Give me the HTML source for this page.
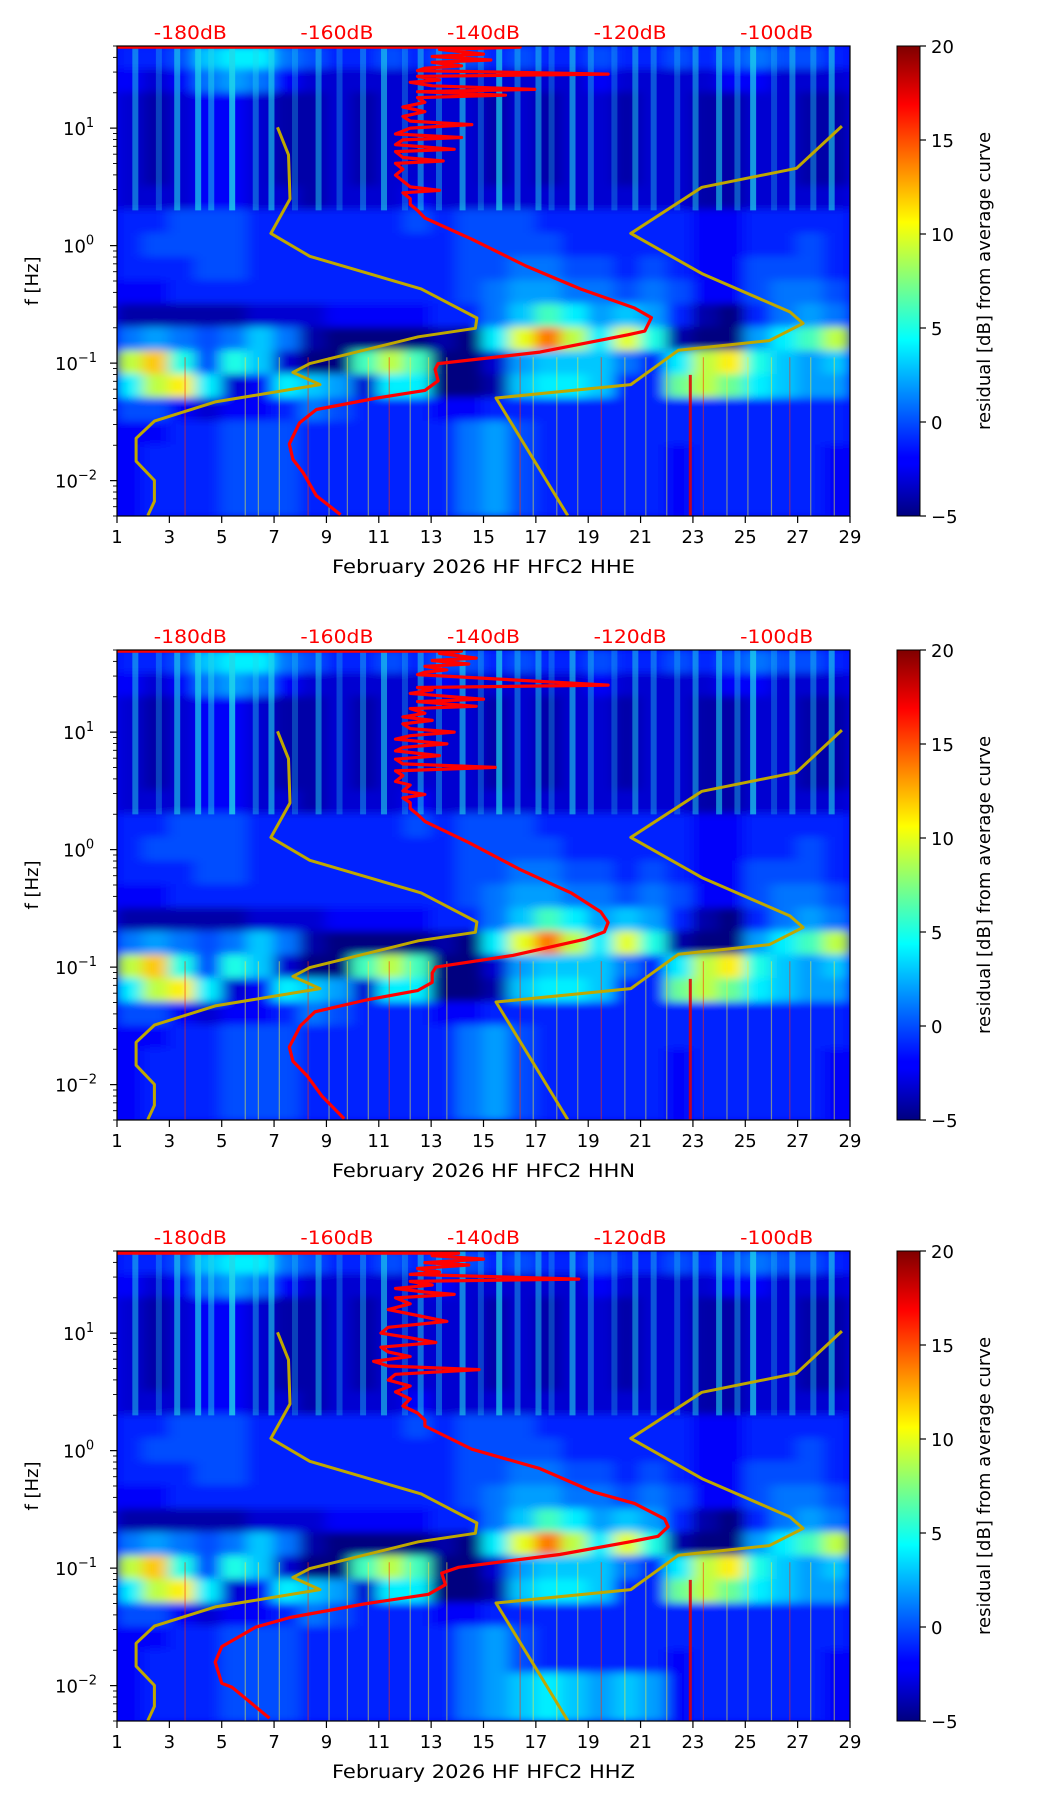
<!DOCTYPE html>
<html><head><meta charset="utf-8"><style>
html,body{margin:0;padding:0;background:#fff;}
svg{display:block;font-family:"DejaVu Sans","Liberation Sans",sans-serif;}
</style></head><body>
<svg id="fig" width="1052" height="1806" viewBox="0 0 1052 1806" xmlns="http://www.w3.org/2000/svg">
<defs>
<filter id="soft" x="-5%" y="-5%" width="110%" height="110%"><feGaussianBlur stdDeviation="7 4"/></filter>
<linearGradient id="jetgrad" x1="0" y1="1" x2="0" y2="0">
<stop offset="0" stop-color="#00007f"/><stop offset="0.11" stop-color="#0000ff"/><stop offset="0.125" stop-color="#0000ff"/>
<stop offset="0.375" stop-color="#00ffff"/><stop offset="0.5" stop-color="#80ff80"/><stop offset="0.625" stop-color="#ffff00"/>
<stop offset="0.875" stop-color="#ff0000"/><stop offset="1" stop-color="#7f0000"/>
</linearGradient>
</defs>
</svg>
<script>
// ---- data ----
const dayTicks = [1,3,5,7,9,11,13,15,17,19,21,23,25,27,29];
const dbTicks = [-180,-160,-140,-120,-100];
const cbTicks = [20,15,10,5,0,-5];
const decadeExps = [1,0,-1,-2];
const panelTitles = ["February 2026 HF HFC2  HHE","February 2026 HF HFC2  HHN","February 2026 HF HFC2  HHZ"];
// residual grid rows (log10 f centers 1.6 .. -2.2), 28 day columns
const gridRows = [
[-1,-1,0,3,4,4,1,0,-1,-1,0,-1,0,0,-1,0,-1,-1,0,-1,-1,0,-1,0,1,0,0,-1],
[-2,-3,-2,1,2,1,-2,-3,-3,-3,-3,-3,-2,-3,-3,-3,-3,-3,-2,-3,-3,-3,-3,-2,-2,-3,-3,-3],
[-3,-4,-3,-2,-2,-3,-4,-4,-3,-4,-3,-3,-3,-3,-4,-3,-4,-3,-3,-4,-3,-3,-4,-4,-3,-3,-4,-4],
[-3,-4,-3,-2,-2,-3,-4,-4,-3,-4,-3,-3,-3,-3,-4,-3,-4,-3,-3,-4,-3,-3,-4,-4,-3,-3,-4,-4],
[-3,-4,-3,-2,-2,-3,-4,-4,-3,-4,-3,-3,-3,-3,-4,-3,-4,-3,-3,-4,-3,-3,-4,-4,-3,-3,-4,-4],
[-3,-4,-3,-2,-2,-3,-4,-4,-3,-4,-3,-3,-3,-3,-4,-3,-4,-3,-3,-4,-3,-3,-4,-4,-3,-3,-4,-4],
[-3,-3,-3,-2,-2,-3,-3,-4,-3,-3,-3,-2,-3,-3,-3,-3,-3,-3,-3,-3,-3,-3,-4,-4,-3,-3,-3,-3],
[-1,-1,0,0,0,-1,-1,-1,-1,-1,-1,0,-1,0,0,0,-1,-1,-1,-1,-1,-1,-2,-2,-1,-1,-1,-1],
[-1,0,0,0,0,-1,-1,-1,-1,-1,-1,-1,-1,0,0,0,0,-1,-1,-1,-1,-1,-2,-2,-1,-1,0,-1],
[-1,-1,-1,0,0,-1,-1,-1,-1,-1,-1,-1,-1,0,0,1,1,0,0,-1,0,-1,-2,-2,0,0,0,-1],
[-2,-2,-1,-1,-1,-1,-1,-1,-1,-1,-1,-1,-1,0,1,2,2,1,1,0,1,0,-2,-2,0,1,1,0],
[-4,-4,-4,-4,-4,-3,-3,-3,-2,-2,-2,-2,-1,-1,1,3,6,4,2,3,2,-1,-4,-5,-1,1,2,1],
[1,2,1,0,1,3,1,-4,-5,-5,-5,-5,-4,-5,4,10,14,9,4,10,5,-4,-5,-5,2,4,6,9],
[9,12,5,0,5,3,-3,-5,-5,6,9,6,-5,-5,-3,2,3,3,3,1,-1,4,9,11,5,3,2,3],
[4,9,11,4,-3,-2,4,3,2,-3,4,4,-5,-5,-4,3,4,4,3,-1,-1,7,9,7,4,3,2,2],
[0,0,-2,-3,-2,-2,-1,1,0,-1,-1,-1,-2,-2,-1,-1,-1,-1,-1,-1,-1,-1,-1,-1,-1,-1,-1,-1],
[-2,-2,-1,-1,0,0,0,-1,-1,-1,-1,-1,-1,1,2,0,-1,-1,-1,-1,-1,-1,-1,-1,-1,-1,-1,-1],
[-2,-1,-1,-1,0,0,0,-1,-1,-1,-1,-1,-1,1,2,0,-1,-1,-1,-1,-1,-2,-1,-1,-1,-1,-1,-2],
[-2,-1,-1,-1,0,0,0,-1,-1,-1,-1,-1,-1,1,2,0,-1,-1,-1,-1,-1,-2,-1,-1,-1,-1,-1,-2],
[-2,-1,-1,-1,0,0,0,-1,-1,-1,-1,-1,-1,1,2,0,-1,-1,-1,-1,-1,-2,-1,-1,-1,-1,-1,-2]
];
const hhzBottomRow = [-2,-1,-1,-1,0,0,0,-1,-1,-1,-1,-1,-1,1,2,3,4,3,2,3,2,-2,-1,-1,-1,-1,-1,-2];
const upperStreakDays = [1.7,2.6,3.3,4.1,4.6,5.4,6.3,6.9,7.8,8.7,9.5,10.4,11.2,12.0,12.6,13.3,14.2,14.9,15.6,16.3,17.1,17.6,18.4,19.1,20.0,20.8,21.5,22.4,23.1,24.0,24.7,25.3,26.1,26.8,27.6,28.3];
const upperStreakStrength = [0.5,0.3,0.6,0.7,0.5,0.8,0.4,0.6,0.3,0.5,0.3,0.4,0.6,0.3,0.5,0.4,0.6,0.3,0.7,0.4,0.5,0.3,0.6,0.4,0.3,0.5,0.4,0.3,0.5,0.6,0.4,0.7,0.3,0.5,0.4,0.6];
const lowStreakDays = [3.6,5.9,6.4,7.2,8.3,9.1,9.8,10.6,11.4,12.2,12.9,13.6,16.4,16.9,17.8,18.6,19.5,20.4,21.2,22.0,23.4,24.3,25.1,26.0,26.7,27.5,28.4];
const redLineDay = 22.9;
// curves: dB and log10(f)
const red1DB = [-190,-135,-146,-140,-147,-139,-147,-143,-148,-149,-123,-149,-146,-150,-147,-133,-149,-137,-149,-148,-151,-148,-151,-150,-141.6,-150,-152,-143,-151,-152,-144,-152,-151,-145.5,-152,-151,-152,-151,-150,-146,-151,-150,-150,-149,-148,-141.6,-134.2,-126.8,-119.4,-117.1,-118,-120.3,-132.3,-146.2,-146.6,-146.2,-148,-154.5,-162.8,-165.1,-166.5,-166,-164.6,-162.8,-159.5];
const red1LogF = [1.69,1.69,1.67,1.63,1.61,1.58,1.56,1.53,1.51,1.49,1.46,1.44,1.41,1.39,1.36,1.33,1.31,1.28,1.26,1.22,1.18,1.14,1.1,1.06,1.03,1.0,0.95,0.92,0.9,0.86,0.82,0.8,0.75,0.72,0.7,0.65,0.6,0.55,0.5,0.47,0.45,0.4,0.35,0.3,0.235,0.055,-0.173,-0.368,-0.531,-0.613,-0.727,-0.759,-0.906,-1.004,-1.053,-1.15,-1.232,-1.297,-1.395,-1.509,-1.688,-1.819,-1.933,-2.129,-2.29];
const red2DB = [-190,-143,-146,-141,-147,-142,-148,-145,-148,-149,-123,-149,-147,-150,-146,-140,-149,-141,-150,-148,-151,-147,-151,-150,-144,-150,-152,-145,-151,-152,-146,-152,-151,-138.4,-152,-151,-152,-150,-151,-148,-151,-150,-150,-149,-148,-142,-135,-128,-124,-123,-123.5,-126,-136,-146.5,-147,-147,-149,-156,-163,-165,-166.5,-166,-164,-162,-159];
const red2LogF = [1.69,1.69,1.67,1.63,1.61,1.58,1.56,1.53,1.51,1.49,1.4,1.38,1.36,1.33,1.31,1.28,1.26,1.22,1.2,1.16,1.13,1.1,1.07,1.03,1.0,0.97,0.94,0.9,0.87,0.84,0.8,0.77,0.73,0.7,0.67,0.63,0.58,0.55,0.5,0.47,0.44,0.4,0.35,0.3,0.24,0.06,-0.17,-0.37,-0.53,-0.62,-0.7,-0.76,-0.9,-1.0,-1.05,-1.13,-1.2,-1.28,-1.38,-1.5,-1.68,-1.8,-1.93,-2.1,-2.29];
const red3DB = [-190,-143.4,-147,-140,-148,-142,-149,-146,-150,-127,-150,-147,-152,-148,-144,-152,-150,-153,-149,-145,-153,-154,-150,-146.5,-154,-153,-150,-155,-153,-140.6,-152,-153,-150,-152,-150,-151,-149,-148,-148,-141.6,-132.3,-125,-119.4,-115.3,-114.8,-116.2,-120.3,-129.6,-143.4,-145.7,-145.2,-147.5,-156.3,-166.4,-171.1,-175.7,-176.6,-175.7,-174.3,-169.2];
const red3LogF = [1.68,1.68,1.66,1.63,1.6,1.58,1.55,1.52,1.5,1.46,1.44,1.41,1.38,1.35,1.33,1.3,1.25,1.2,1.15,1.1,1.05,1.0,0.96,0.92,0.88,0.84,0.8,0.76,0.72,0.69,0.65,0.6,0.55,0.5,0.44,0.38,0.32,0.26,0.21,0.012,-0.153,-0.351,-0.449,-0.581,-0.647,-0.729,-0.779,-0.884,-0.993,-1.042,-1.141,-1.223,-1.305,-1.42,-1.503,-1.668,-1.8,-1.98,-2.014,-2.277];
const lowNoiseDB = [-168.1,-166.6,-166.4,-169.0,-163.7,-148.5,-140.9,-141.1,-148.9,-163.7,-166.0,-162.3,-176.6,-184.9,-187.4,-187.4,-184.9,-184.9,-185.8];
const lowNoiseLogF = [1.007,0.773,0.397,0.104,-0.091,-0.368,-0.616,-0.704,-0.776,-1.004,-1.079,-1.183,-1.33,-1.493,-1.64,-1.835,-1.998,-2.177,-2.298];
const highNoiseDB = [-91.1,-97.3,-110.2,-119.9,-110.2,-98.2,-96.4,-101.0,-113.4,-119.9,-138.3,-128.5];
const highNoiseLogF = [1.017,0.658,0.496,0.104,-0.238,-0.564,-0.662,-0.808,-0.89,-1.183,-1.297,-2.298];

// ---- layout ----
const NS = "http://www.w3.org/2000/svg";
const svg = document.getElementById('fig');
const L = 117, R = 850, H = 470, LOGMAX = Math.log10(50), LOGMIN = Math.log10(0.005);
const panelTops = [46, 650, 1251];
const CBX = 897, CBW = 23;
function mk(tag, attrs, parent){ const e=document.createElementNS(NS,tag); for(const k in attrs) e.setAttribute(k,attrs[k]); (parent||svg).appendChild(e); return e; }
function xDay(d){ return L + (d-1)/28*(R-L); }
function xDB(db){ return L + (db+190)/100*(R-L); }
function yLog(top, lf){ return top + (LOGMAX-lf)/(LOGMAX-LOGMIN)*H; }
function clamp(x){ return Math.max(0,Math.min(1,x)); }
function jet(v){ const t=clamp((v+5)/25); const r=clamp(1.5-Math.abs(4*t-3)), g=clamp(1.5-Math.abs(4*t-2)), b=clamp(1.5-Math.abs(4*t-1)); return `rgb(${Math.round(r*255)},${Math.round(g*255)},${Math.round(b*255)})`; }

panelTops.forEach((top, p) => {
  const pg = mk('g', {});
  
  
  const cp = mk('clipPath', {id:'clip'+p}, pg);
  mk('rect', {x:L, y:top, width:R-L, height:H}, cp);
  const clipG = mk('g', {'clip-path':`url(#clip${p})`}, pg);
  
  
  mk('rect', {x:L, y:top, width:R-L, height:H, fill:jet(-2)}, clipG);
  const hm = mk('g', {filter:'url(#soft)'}, clipG);
  
  
  gridRows.forEach((row, i) => {
    const useRow = (p===2 && i>=18) ? hhzBottomRow : row;
    const lfTop = LOGMAX - 0.2*i, lfBot = LOGMAX - 0.2*(i+1);
    const y0 = yLog(top, lfTop), y1 = yLog(top, lfBot);
    useRow.forEach((v, j) => {
      const c = mk('rect', {x:xDay(j+1)-1, y:y0-1, width:xDay(j+2)-xDay(j+1)+2, height:y1-y0+2, fill:jet(v)}, hm);
      
      
    });
  });
  upperStreakDays.forEach((d, k) => {
    const s = mk('rect', {x:xDay(d)-3, y:top, width:6, height:yLog(top,0.3)-top, fill:'#20d8e8', opacity: upperStreakStrength[k]}, clipG);
    
    
  });
  lowStreakDays.forEach((d, k) => {
    const s = mk('rect', {x:xDay(d)-0.6, y:yLog(top,-0.95), width:1.2, height:top+H-yLog(top,-0.95), fill:(k%4===0?'#ff3000':'#f0f040'), opacity:0.5}, clipG);
    
    
  });
  const rl = mk('rect', {x:xDay(redLineDay)-1.5, y:yLog(top,-1.1), width:3, height:top+H-yLog(top,-1.1), fill:'#e00000', opacity:0.85}, clipG);
  
  

  function poly(dbs, lfs, color, w, name){
    const pts = dbs.map((db,k)=> xDB(db).toFixed(1)+','+yLog(top, lfs[k]).toFixed(1)).join(' ');
    const e = mk('polyline', {points:pts, fill:'none', stroke:color, 'stroke-width':w, 'stroke-linejoin':'round'}, clipG);
    
    
  }
  poly(lowNoiseDB, lowNoiseLogF, '#bfa800', 3, 'low-noise-model-curve');
  poly(highNoiseDB, highNoiseLogF, '#bfa800', 3, 'high-noise-model-curve');
  const rdb = [red1DB, red2DB, red3DB][p], rlf = [red1LogF, red2LogF, red3LogF][p];
  poly(rdb, rlf, '#ff0000', 3.2, 'median-psd-curve');

  const fr = mk('rect', {x:L, y:top, width:R-L, height:H, fill:'none', stroke:'#000', 'stroke-width':1.2}, pg);
  
  

  dayTicks.forEach(d => {
    const x = xDay(d);
    mk('line', {x1:x, y1:top+H, x2:x, y2:top+H+7, stroke:'#000', 'stroke-width':1.2}, pg);
    const t = mk('text', {x:x, y:top+H+27, 'font-size':18, 'text-anchor':'middle', fill:'#000'}, pg);
    t.textContent = d;
    
    
  });
  const xl = mk('text', {x:(L+R)/2, y:top+H+57, 'font-size':19, 'text-anchor':'middle', fill:'#000', textLength:303, lengthAdjust:'spacingAndGlyphs'}, pg);
  xl.textContent = panelTitles[p];
  
  

  dbTicks.forEach(db => {
    const t = mk('text', {x:xDB(db), y:top-7, 'font-size':19, 'text-anchor':'middle', fill:'#ff0000', textLength:73, lengthAdjust:'spacingAndGlyphs'}, pg);
    t.textContent = db + 'dB';
    
    
  });

  decadeExps.forEach(e => {
    const y = yLog(top, e);
    mk('line', {x1:L-7, y1:y, x2:L, y2:y, stroke:'#000', 'stroke-width':1.2}, pg);
    const t = mk('text', {x:L-12, y:y+7, 'font-size':18, 'text-anchor':'start', fill:'#000'}, pg);
    
    
    const a = document.createElementNS(NS,'tspan'); a.textContent='10'; t.appendChild(a);
    const b = document.createElementNS(NS,'tspan'); b.setAttribute('dy','-8'); b.setAttribute('font-size','13'); b.textContent = (e<0?'\u2212':'') + Math.abs(e); t.appendChild(b);
    t.setAttribute('x', L - 12 - (e<0?50:42));
  });
  for (let e=-3; e<=1; e++) for (let m=2; m<=9; m++) {
    const lf = e + Math.log10(m);
    if (lf < LOGMIN || lf > LOGMAX) continue;
    const y = yLog(top, lf);
    mk('line', {x1:L-4, y1:y, x2:L, y2:y, stroke:'#000', 'stroke-width':0.9}, pg);
  }
  const yl = mk('text', {x:0, y:0, 'font-size':18, 'text-anchor':'middle', fill:'#000', transform:`translate(38,${top+H/2}) rotate(-90)`}, pg);
  yl.textContent = 'f [Hz]';
  
  

  const cb = mk('rect', {x:CBX, y:top, width:CBW, height:H, fill:'url(#jetgrad)', stroke:'#000', 'stroke-width':1}, pg);
  
  
  cbTicks.forEach(v => {
    const y = top + (20 - v)/25*H;
    mk('line', {x1:CBX+CBW, y1:y, x2:CBX+CBW+6, y2:y, stroke:'#000', 'stroke-width':1.2}, pg);
    const t = mk('text', {x:CBX+CBW+11, y:y+7, 'font-size':18, fill:'#000'}, pg);
    t.textContent = v < 0 ? '\u2212' + Math.abs(v) : String(v);
    
    
  });
  const cl = mk('text', {x:0, y:0, 'font-size':18, 'text-anchor':'middle', fill:'#000', transform:`translate(990,${top+H/2}) rotate(-90)`}, pg);
  cl.textContent = 'residual [dB] from average curve';
  
  
});
</script>
</body></html>
